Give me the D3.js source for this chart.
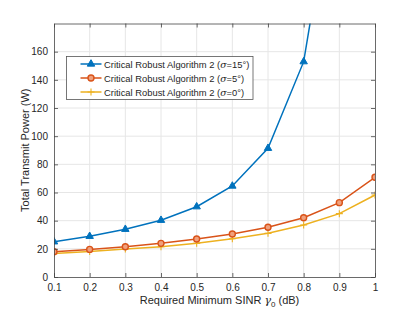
<!DOCTYPE html>
<html lang="en">
<head>
<meta charset="utf-8" />
<title>Total Transmit Power</title>
<style>
  * { margin: 0; padding: 0; }
  body { background: white; font-family: "Liberation Sans", Arial, sans-serif; }
  svg { display: block; }
  .grid line { stroke: #e6e6e6; stroke-width: 1px; }
  .tick text { font-size: 10px; fill: #262626; font-family: "Liberation Sans", Arial, sans-serif; }
  .line { fill: none; stroke-width: 1.5px; }
</style>
</head>
<body>
<script src="https://d3js.org/d3.v7.min.js"></script>
<div id="chart"></div>
<script>
  var gamma = [0.1, 0.2, 0.3, 0.4, 0.5, 0.6, 0.7, 0.8, 0.9, 1.0];
  var sigma15 = [25.0, 28.9, 33.9, 40.3, 49.9, 64.6, 91.4, 152.9, 305, 620];
  var sigma5 = [18.0, 19.6, 21.5, 23.9, 27.0, 30.5, 35.3, 42.1, 52.8, 70.8];
  var sigma0 = [16.6, 18.1, 19.9, 21.5, 23.9, 27.2, 31.0, 36.9, 45.0, 58.2];
  var xTicks = [0.1, 0.2, 0.3, 0.4, 0.5, 0.6, 0.7, 0.8, 0.9, 1];
  var yTicks = [0, 20, 40, 60, 80, 100, 120, 140, 160];
  var labels = ["15", "5", "0"];

  var W = 415, H = 312;
  var margin = {top: 23.5, right: 40, bottom: 35, left: 54};
  var width = 375 - margin.left, height = 277 - margin.top;

  var svg = d3.select("#chart").append("svg")
      .attr("width", W).attr("height", H);
  var g = svg.append("g")
      .attr("transform", "translate(" + margin.left + "," + margin.top + ")");

  var x = d3.scaleLinear().domain([0.1, 1]).range([0, width]);
  var y = d3.scaleLinear().domain([0, 180]).range([height, 0]);

  // grid
  g.append("g").attr("class", "grid")
    .selectAll("line").data(xTicks.slice(1, -1)).enter().append("line")
      .attr("x1", function(d) { return x(d); }).attr("x2", function(d) { return x(d); })
      .attr("y1", 0).attr("y2", height);
  g.append("g").attr("class", "grid")
    .selectAll("line").data(yTicks.slice(1)).enter().append("line")
      .attr("y1", function(d) { return y(d); }).attr("y2", function(d) { return y(d); })
      .attr("x1", 0).attr("x2", width);

  // series
  var series = [
    {vals: sigma15, color: "#0072BD", marker: "tri"},
    {vals: sigma5, color: "#D95319", marker: "circ"},
    {vals: sigma0, color: "#EDB120", marker: "plus"}
  ];

  svg.append("defs").append("clipPath").attr("id", "clip")
    .append("rect").attr("width", width).attr("height", height);

  var line = d3.line()
      .x(function(d, i) { return x(gamma[i]); })
      .y(function(d) { return y(d); });

  var plot = g.append("g").attr("clip-path", "url(#clip)");

  function drawMarker(sel, type, color) {
    if (type == "tri") {
      sel.append("path").attr("d", d3.symbol().type(d3.symbolTriangle).size(24))
        .attr("fill", color).attr("stroke", color).attr("stroke-width", 1);
    } else if (type == "circ") {
      sel.append("circle").attr("r", 3)
        .attr("fill", "#f0a07c").attr("stroke", color).attr("stroke-width", 1.4);
    } else {
      sel.append("path").attr("d", "M-3.5,0H3.5M0,-3.5V3.5")
        .attr("stroke", color).attr("stroke-width", 1.1).attr("fill", "none");
    }
  }

  series.slice().reverse().forEach(function(s) {
    plot.append("path").datum(s.vals)
      .attr("class", "line").attr("stroke", s.color).attr("d", line);
    s.vals.forEach(function(v, i) {
      if (v > 180) return;
      var m = plot.append("g")
        .attr("transform", "translate(" + x(gamma[i]) + "," + y(v) + ")");
      drawMarker(m, s.marker, s.color);
    });
  });

  // axes
  var axisColor = "#262626";
  var xa = g.append("g").attr("transform", "translate(0," + height + ")")
    .call(d3.axisBottom(x).tickValues(xTicks).tickSizeInner(-4).tickSizeOuter(0).tickPadding(7)
      .tickFormat(function(d) { return d == 1 ? "1" : d3.format(".1f")(d); }));
  var ya = g.append("g")
    .call(d3.axisLeft(y).tickValues(yTicks).tickSizeInner(-4).tickSizeOuter(0).tickPadding(6));
  var xt = g.append("g")
    .call(d3.axisTop(x).tickValues(xTicks).tickSizeInner(-4).tickSizeOuter(0).tickFormat(""));
  var yr = g.append("g").attr("transform", "translate(" + width + ",0)")
    .call(d3.axisRight(y).tickValues(yTicks).tickSizeInner(-4).tickSizeOuter(0).tickFormat(""));
  [xa, ya, xt, yr].forEach(function(a) {
    a.select(".domain").attr("stroke", "#444").attr("stroke-width", 0.8);
    a.selectAll(".tick line").attr("stroke", "#444").attr("stroke-width", 0.8);
  });

  // axis labels
  var xl = svg.append("text")
    .attr("x", margin.left + width / 2 + 5).attr("y", 304)
    .attr("text-anchor", "middle").style("font-size", "11px").attr("fill", axisColor);
  xl.append("tspan").text("Required Minimum SINR ");
  xl.append("tspan").style("font-family", "'DejaVu Serif', serif").style("font-style", "italic").text("γ");
  xl.append("tspan").attr("dy", 3).style("font-size", "8px").text("0");
  xl.append("tspan").attr("dy", -3).text(" (dB)");

  svg.append("text")
    .attr("transform", "translate(29," + (margin.top + height / 2) + ") rotate(-90)")
    .attr("text-anchor", "middle").style("font-size", "11px").attr("fill", axisColor)
    .text("Total Transmit Power (W)");

  // legend
  var lg = svg.append("g").attr("transform", "translate(66.5,56.5)");
  lg.append("rect").attr("width", 186.5).attr("height", 43)
    .attr("fill", "white").attr("stroke", "#555").attr("stroke-width", 0.8);
  series.forEach(function(s, i) {
    var ry = 7.5 + i * 14;
    lg.append("line").attr("x1", 14).attr("x2", 35).attr("y1", ry).attr("y2", ry)
      .attr("stroke", s.color).attr("stroke-width", 1.5);
    var m = lg.append("g").attr("transform", "translate(24.5," + ry + ")");
    drawMarker(m, s.marker, s.color);
    var t = lg.append("text").attr("x", 37.5).attr("y", ry + 3.5)
      .style("font-size", "9.4px").attr("fill", axisColor);
    t.append("tspan").text("Critical Robust Algorithm 2 (");
    t.append("tspan").style("font-family", "'DejaVu Serif', serif").style("font-style", "italic").text("σ");
    t.append("tspan").text("=" + labels[i] + "°)");
  });
</script>
</body>
</html>
